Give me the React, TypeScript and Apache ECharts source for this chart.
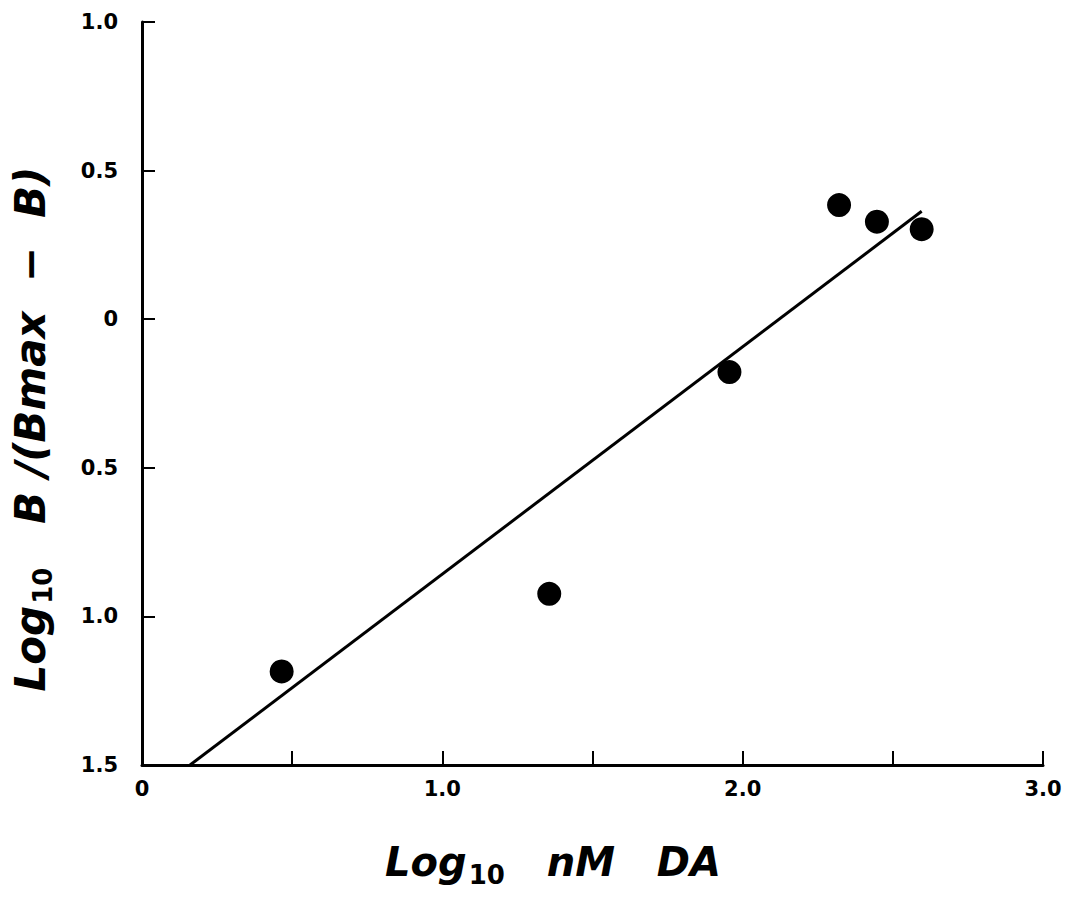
import React, { useEffect, useRef } from "react";
import * as echarts from "echarts";

const pointsX = [0.465, 1.356, 1.956, 2.321, 2.447, 2.596];
const pointsY = [-1.185, -0.924, -0.178, 0.384, 0.328, 0.303];
const fitX = [0.16, 2.596];
const fitY = [-1.5, 0.363];
const xTickLabels = ["0", "1.0", "2.0", "3.0"];

export default function App() {
  const ref = useRef<HTMLDivElement>(null);
  useEffect(() => {
    if (!ref.current) return;
    const chart = echarts.init(ref.current, null, { renderer: "svg" });
    const font = "'DejaVu Sans', 'Liberation Sans', sans-serif";
    const makeRich = (size: number, sub: number, off: number) => ({
      a: { fontSize: size, fontStyle: "italic", fontFamily: font, fill: "#000", color: "#000", fontWeight: "bold", lineHeight: size + 16 },
      s: { fontSize: sub, fontFamily: font, fill: "#000", color: "#000", fontWeight: "bold", padding: [off, 0, 0, 2], lineHeight: size + 16 },
    });
    chart.setOption({
      animation: false,
      backgroundColor: "#ffffff",
      grid: { left: 142, right: 33, top: 22, bottom: 133 },
      xAxis: {
        type: "value",
        min: 0,
        max: 3,
        interval: 0.5,
        splitLine: { show: false },
        axisLine: { onZero: false, lineStyle: { color: "#000", width: 3 } },
        axisTick: { inside: true, length: 14, lineStyle: { color: "#000", width: 2 } },
        axisLabel: {
          margin: 13,
          color: "#000",
          fontSize: 21,
          fontWeight: "bold",
          fontFamily: font,
          formatter: (v: number) => {
            const i = Math.round(v);
            return Math.abs(v - i) < 1e-6 ? xTickLabels[i] : "";
          },
        },
      },
      yAxis: {
        type: "value",
        min: -1.5,
        max: 1,
        interval: 0.5,
        splitLine: { show: false },
        axisLine: { onZero: false, lineStyle: { color: "#000", width: 3 } },
        axisTick: { inside: true, length: 13, lineStyle: { color: "#000", width: 2 } },
        axisLabel: {
          margin: 24,
          color: "#000",
          fontSize: 21,
          fontWeight: "bold",
          fontFamily: font,
          formatter: (v: number) => (Math.abs(v) < 1e-6 ? "0" : Math.abs(v).toFixed(1)),
        },
      },
      graphic: [
        {
          type: "text",
          x: 553,
          y: 862,
          style: {
            text: "{a|Log}{s|10}{a|   nM   DA}",
            rich: makeRich(40, 26, 26),
            align: "center",
            verticalAlign: "middle",
          },
        },
        {
          type: "text",
          x: 30,
          y: 429,
          rotation: Math.PI / 2,
          style: {
            text: "{a|Log}{s|10}{a|   B /(Bmax  −  B)}",
            rich: makeRich(42, 26, 26),
            align: "center",
            verticalAlign: "middle",
          },
        },
      ],
      series: [
        {
          type: "line",
          data: fitX.map((x, i) => [x, fitY[i]]),
          symbol: "none",
          lineStyle: { color: "#000", width: 3 },
          z: 2,
        },
        {
          type: "scatter",
          data: pointsX.map((x, i) => [x, pointsY[i]]),
          symbol: "circle",
          symbolSize: 24,
          itemStyle: { color: "#000", opacity: 1 },
          z: 3,
        },
      ],
    });
    return () => chart.dispose();
  }, []);
  return (
    <div
      ref={ref}
      style={{ position: "fixed", left: 0, top: 0, width: 1076, height: 898, background: "#fff" }}
    />
  );
}
